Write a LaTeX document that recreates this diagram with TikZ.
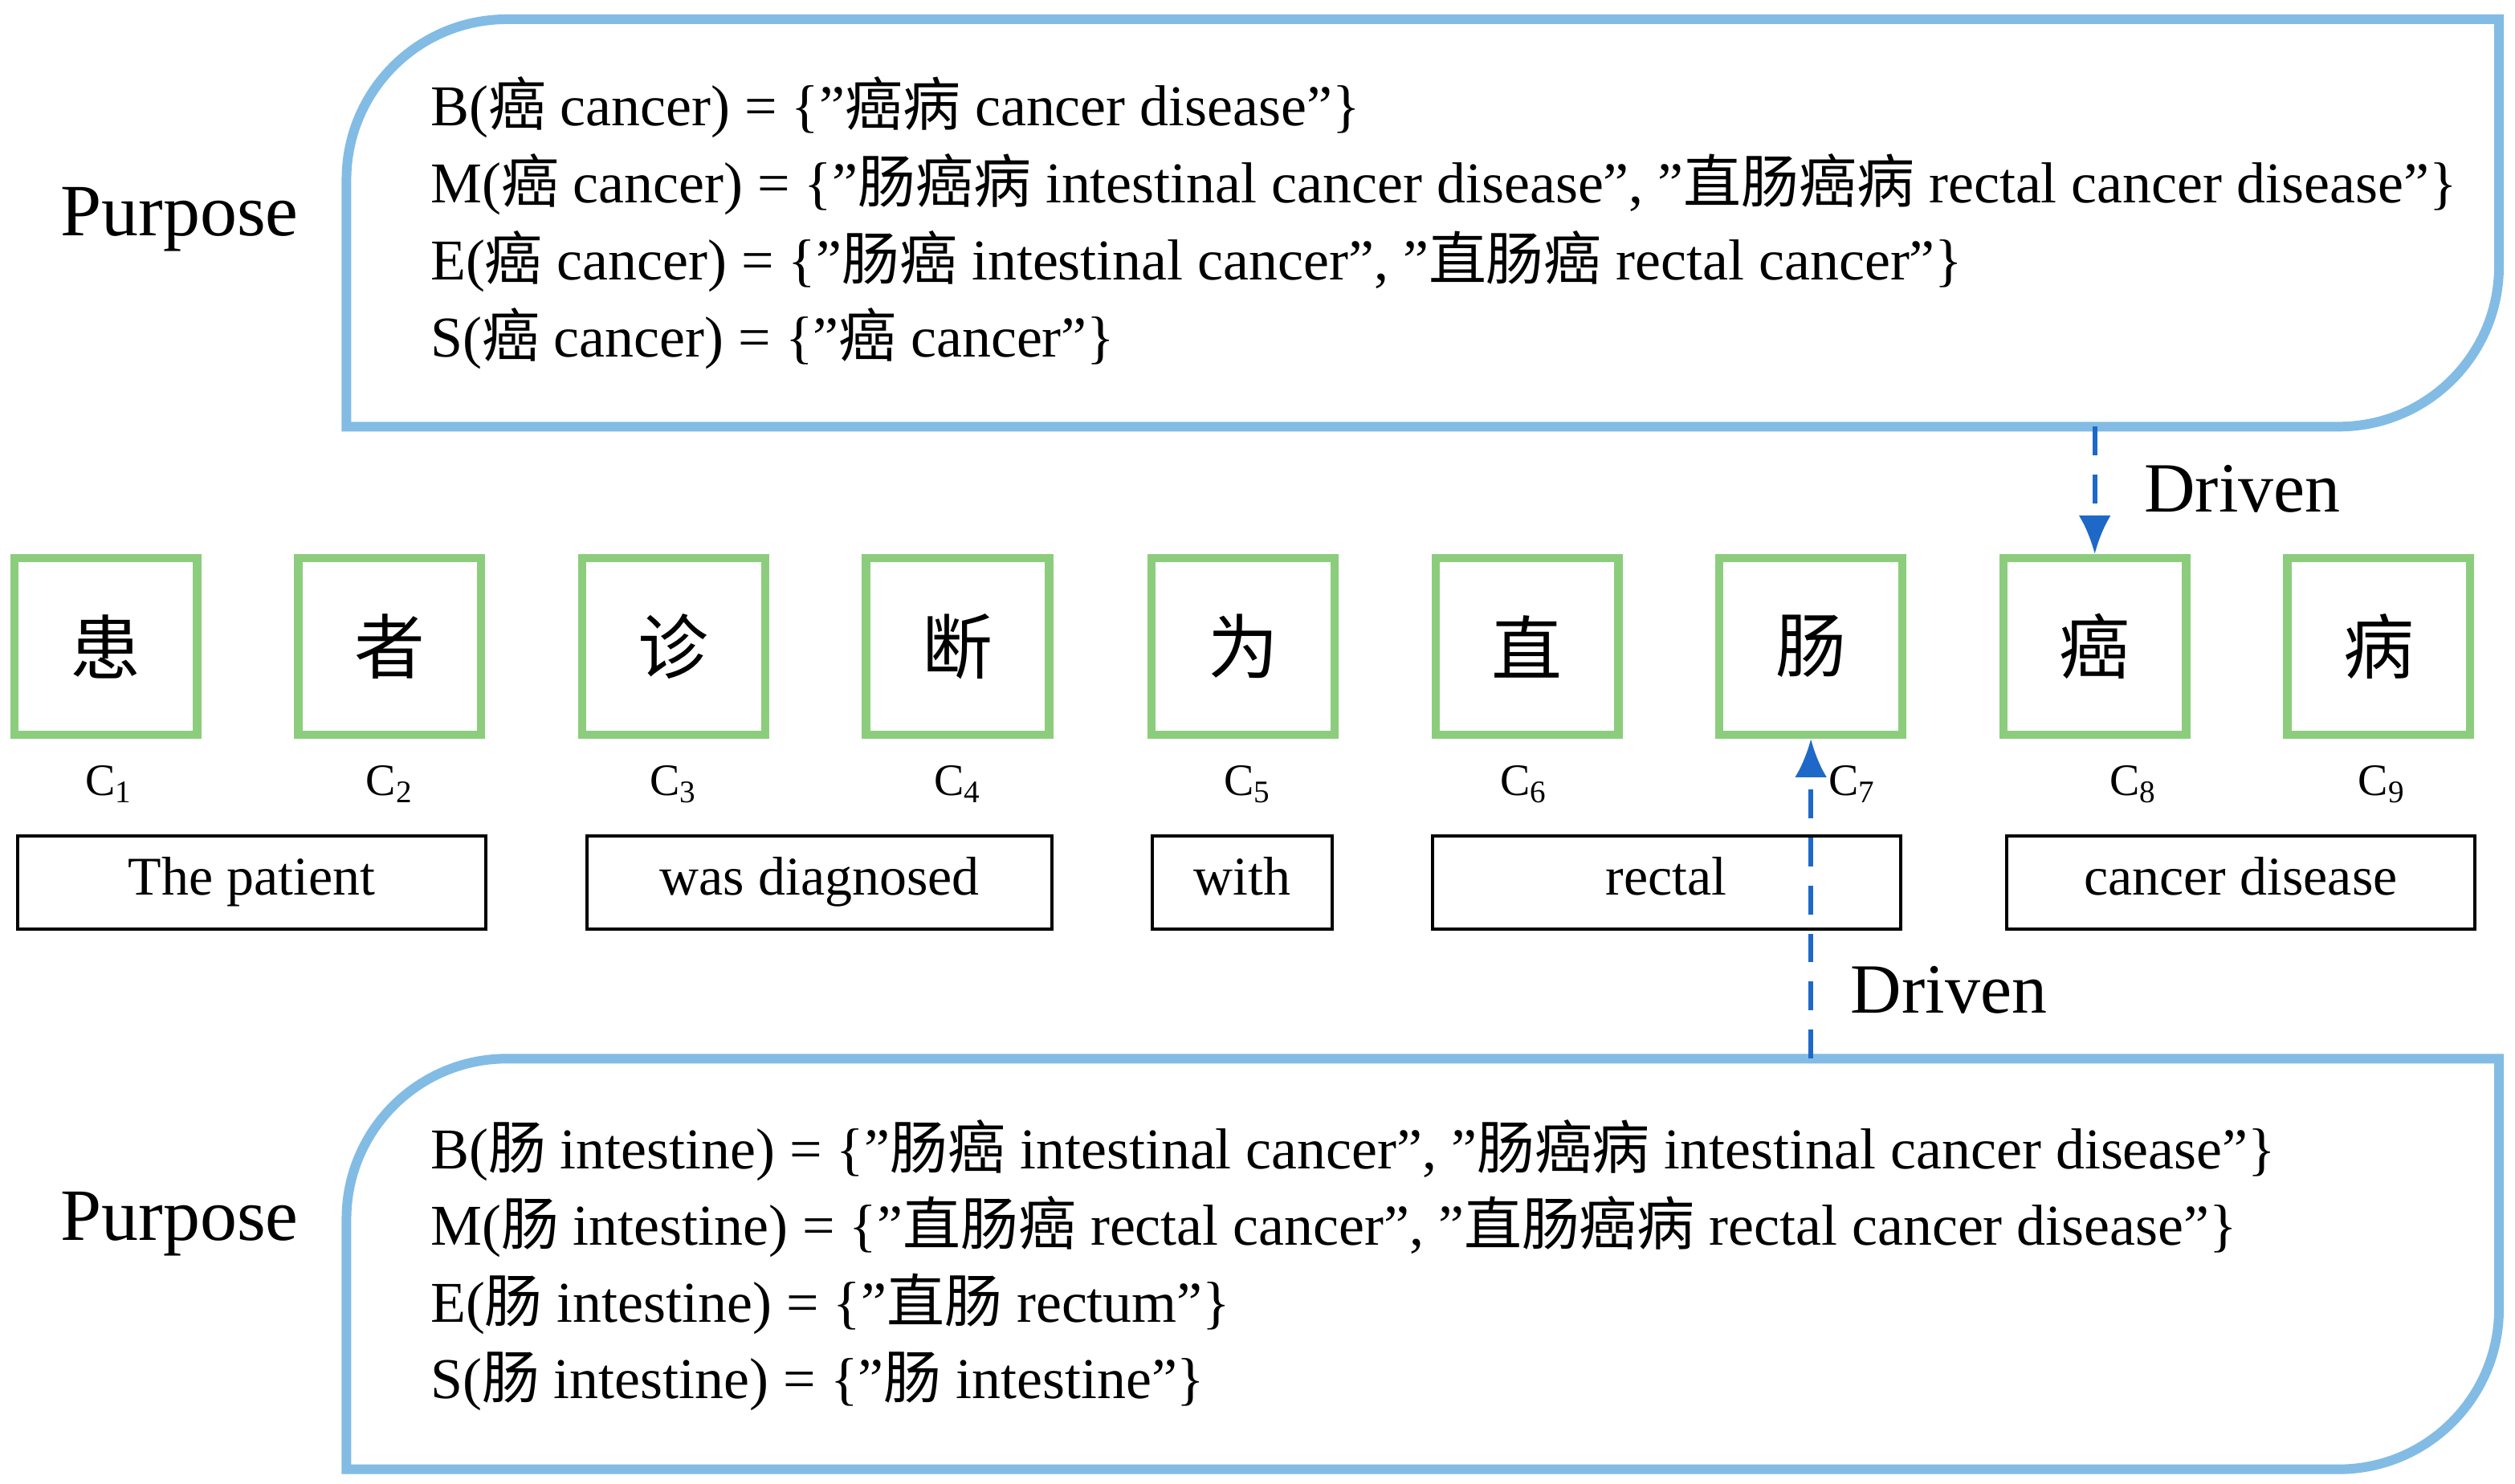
\documentclass[tikz,border=0pt]{standalone}
\usepackage{fontspec}
\defaultfontfeatures{}
\setmainfont{Liberation Serif}
\newfontfamily\cjk{Noto Sans CJK SC}
\newcommand\zh[1]{{\cjk #1}}
\newcommand\qq{"}
\usetikzlibrary{arrows.meta}
\definecolor{pblue}{RGB}{130,188,228}
\definecolor{agreen}{RGB}{140,205,125}
\definecolor{ablue}{RGB}{30,105,200}
\tikzset{
 pbox/.style={draw=pblue,line width=3pt},
 cbox/.style={draw=agreen,line width=2.6pt,minimum width=57pt,minimum height=55pt,inner sep=0pt,font=\fontsize{22}{24}\selectfont\cjk},
 wbox/.style={draw=black,line width=1pt,minimum height=29pt,inner sep=0pt,text height=12pt,text depth=4pt,font=\fontsize{17}{19}\selectfont},
 line/.style={anchor=west,inner sep=0pt,font=\fontsize{18}{20}\selectfont},
 purp/.style={font=\fontsize{23}{25}\selectfont},
 clab/.style={font=\fontsize{14}{16}\selectfont},
 drv/.style={font=\fontsize{22}{24}\selectfont},
 darrow/.style={draw=ablue,line width=1.4pt,dash pattern=on 9pt off 6pt,-{Latex[length=12pt,width=10pt]}}
}
\begin{document}
\begin{tikzpicture}[x=0.5pt,y=-0.5pt]
\useasboundingbox (0,0) rectangle (1568,925);
% top box
\draw[pbox] (216,266) [rounded corners=50pt] -- (216,12) [sharp corners] -- (1558,12) [rounded corners=50pt] -- (1558,266) [sharp corners] -- cycle;
\coordinate (tb) at (1306,266);
\node[purp] (p1) at (112,137) {Purpose};
\node[line] (t1) at (268,67) {B(\zh{癌} cancer) = \{\qq\zh{癌病} cancer disease\qq\}};
\node[line] (t2) at (268,115) {M(\zh{癌} cancer) = \{\qq\zh{肠癌病} intestinal cancer disease\qq, \qq\zh{直肠癌病} rectal cancer disease\qq\}};
\node[line] (t3) at (268,163) {E(\zh{癌} cancer) = \{\qq\zh{肠癌} intestinal cancer\qq, \qq\zh{直肠癌} rectal cancer\qq\}};
\node[line] (t4) at (268,211) {S(\zh{癌} cancer) = \{\qq\zh{癌} cancer\qq\}};
% bottom box
\draw[pbox] (216,916) [rounded corners=50pt] -- (216,660) [sharp corners] -- (1558,660) [rounded corners=50pt] -- (1558,916) [sharp corners] -- cycle;
\coordinate (bb) at (1129,660);
\node[purp] (p2) at (112,763) {Purpose};
\node[line] (b1) at (268,717) {B(\zh{肠} intestine) = \{\qq\zh{肠癌} intestinal cancer\qq, \qq\zh{肠癌病} intestinal cancer disease\qq\}};
\node[line] (b2) at (268,765) {M(\zh{肠} intestine) = \{\qq\zh{直肠癌} rectal cancer\qq, \qq\zh{直肠癌病} rectal cancer disease\qq\}};
\node[line] (b3) at (268,813) {E(\zh{肠} intestine) = \{\qq\zh{直肠} rectum\qq\}};
\node[line] (b4) at (268,861) {S(\zh{肠} intestine) = \{\qq\zh{肠} intestine\qq\}};
% characters
\foreach \i/\x/\c/\lx in {1/66/患/68,2/243/者/243,3/420/诊/420,4/597/断/597,5/775/为/778,6/952/直/950,7/1129/肠/1155,8/1306/癌/1330,9/1483/病/1485}{
  \node[cbox] (c\i) at (\x,403) {\c};
  \node[clab] (l\i) at (\lx,489) {C\textsubscript{\i}};
}
% words
\node[wbox,minimum width=146pt] (w1) at (157,550) {The patient};
\node[wbox,minimum width=145pt] (w2) at (511,550) {was diagnosed};
\node[wbox,minimum width=56pt] (w3) at (774.5,550) {with};
\node[wbox,minimum width=146pt] (w4) at (1039,550) {rectal};
\node[wbox,minimum width=146pt] (w5) at (1397,550) {cancer disease};
% arrows
\draw[darrow] (tb) -- (c8.north);
\draw[darrow] (bb) -- (c7.south);
\node[drv] (d1) at (1398,305) {Driven};
\node[drv] (d2) at (1215,617) {Driven};
\end{tikzpicture}
\end{document}
